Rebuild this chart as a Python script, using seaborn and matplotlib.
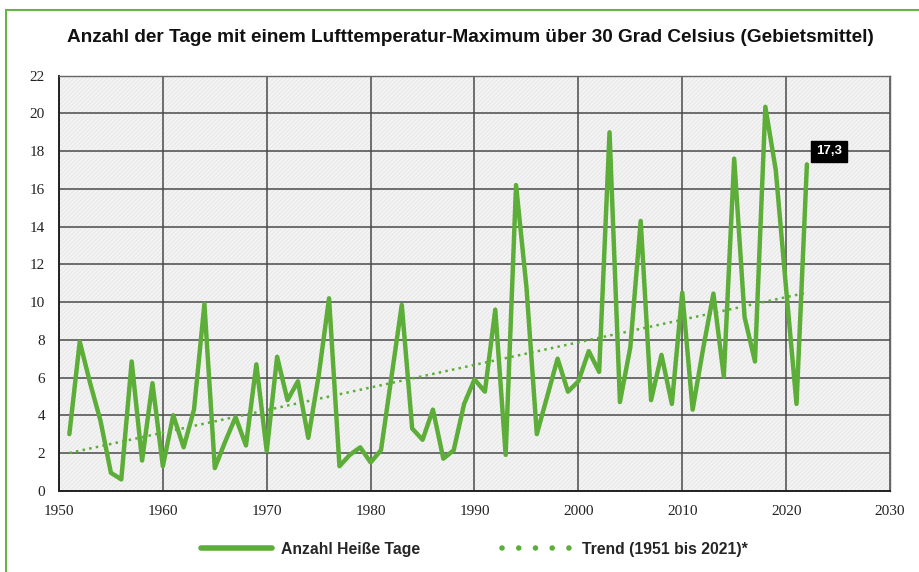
import numpy as np
import pandas as pd
import matplotlib
matplotlib.use('Agg')
import matplotlib.pyplot as plt
from matplotlib.patches import Rectangle
from matplotlib.lines import Line2D
import seaborn as sns

# data
years = list(range(1951, 2023))
hot_days = [3.0, 7.9, 5.7, 3.7, 0.95, 0.6, 6.85, 1.6, 5.7, 1.3,
            4.0, 2.3, 4.3, 9.9, 1.2, 2.6, 3.9, 2.4, 6.7, 2.1,
            7.1, 4.8, 5.8, 2.8, 6.1, 10.2, 1.3, 1.9, 2.3, 1.5,
            2.15, 6.0, 9.85, 3.3, 2.7, 4.3, 1.7, 2.15, 4.6, 5.9,
            5.25, 9.6, 1.9, 16.2, 10.8, 3.0, 5.0, 7.0, 5.25, 5.8,
            7.4, 6.3, 19.0, 4.7, 7.6, 14.3, 4.8, 7.2, 4.6, 10.5,
            4.3, 7.5, 10.45, 6.05, 17.6, 9.2, 6.85, 20.35, 17.0, 10.7,
            4.6, 17.3]
trend_years = [1951, 2022]
trend_values = [2.0, 10.5]
last_label = '17,3'

x_ticks = [1950, 1960, 1970, 1980, 1990, 2000, 2010, 2020, 2030]
y_ticks = [0, 2, 4, 6, 8, 10, 12, 14, 16, 18, 20, 22]

green = '#5cae38'

sns.set_style('white')
plt.rcParams['font.family'] = ['Liberation Sans', 'DejaVu Sans']

df = pd.DataFrame({'Jahr': years, 'Tage': hot_days})
trend = pd.DataFrame({'Jahr': trend_years, 'Tage': trend_values})

fig = plt.figure(figsize=(9.2, 5.72), dpi=100)
ax = fig.add_axes([0.0641, 0.1421, 0.9033, 0.7256])

# hatched grey background
ax.set_facecolor('#ececec')
plt.rcParams['hatch.linewidth'] = 0.6
bg = Rectangle((0, 0), 1, 1, transform=ax.transAxes, facecolor='#ebebeb',
               edgecolor='#fafafa', hatch='////////', lw=0, zorder=0)
ax.add_patch(bg)

sns.lineplot(data=trend, x='Jahr', y='Tage', ax=ax, color=green, lw=1.8,
             linestyle=(0, (1, 1.7)), zorder=3)
sns.lineplot(data=df, x='Jahr', y='Tage', ax=ax, color=green, lw=3.2,
             zorder=4)

ax.set_xlim(1950, 2030)
ax.set_ylim(0, 22)
ax.set_xticks(x_ticks)
ax.set_yticks(y_ticks)
ax.set_xlabel('')
ax.set_ylabel('')
ax.grid(True, color='#4a4a4a', lw=1.1, zorder=1)
ax.set_axisbelow(True)
for s in ['top', 'right']:
    ax.spines[s].set_color('#666666')
    ax.spines[s].set_linewidth(1.0)
for s in ['left', 'bottom']:
    ax.spines[s].set_color('#222222')
    ax.spines[s].set_linewidth(1.4)
ax.tick_params(axis='both', direction='out', length=4, width=1.2, color='#222222',
               labelsize=11, pad=6)
for lab in ax.get_xticklabels() + ax.get_yticklabels():
    lab.set_family(['Liberation Serif', 'DejaVu Serif'])
    lab.set_color('#222222')

ax.annotate(last_label, xy=(years[-1], hot_days[-1]), xytext=(22, 13),
            textcoords='offset pixels', ha='center', va='center',
            color='white', fontsize=9.5, fontweight='bold',
            bbox=dict(boxstyle='square,pad=0.35', fc='black', ec='black'),
            zorder=6)

fig.text(0.511, 0.935, 'Anzahl der Tage mit einem Lufttemperatur-Maximum über 30 Grad Celsius (Gebietsmittel)',
         ha='center', va='center', fontsize=13.7, fontweight='bold', color='#111111')

h1 = Line2D([], [], color=green, lw=4)
h2 = Line2D([], [], color=green, lw=4, linestyle=(0, (0.01, 3.0)),
            dash_capstyle='round')
leg = fig.legend([h1, h2], ['Anzahl Heiße Tage', 'Trend (1951 bis 2021)*'],
                 loc='center', bbox_to_anchor=(0.516, 0.04), ncol=2, frameon=False,
                 handlelength=4.5, columnspacing=5.2, handletextpad=0.6,
                 prop={'weight': 'bold', 'size': 11.3})

# green frame lines at left and top
fig.add_artist(Line2D([0.0065, 0.0065], [0, 0.983], transform=fig.transFigure,
                      color='#66b443', lw=1.5))
fig.add_artist(Line2D([0.0065, 1.0], [0.983, 0.983], transform=fig.transFigure,
                      color='#66b443', lw=1.5))

fig.savefig('out.png', dpi=100)
